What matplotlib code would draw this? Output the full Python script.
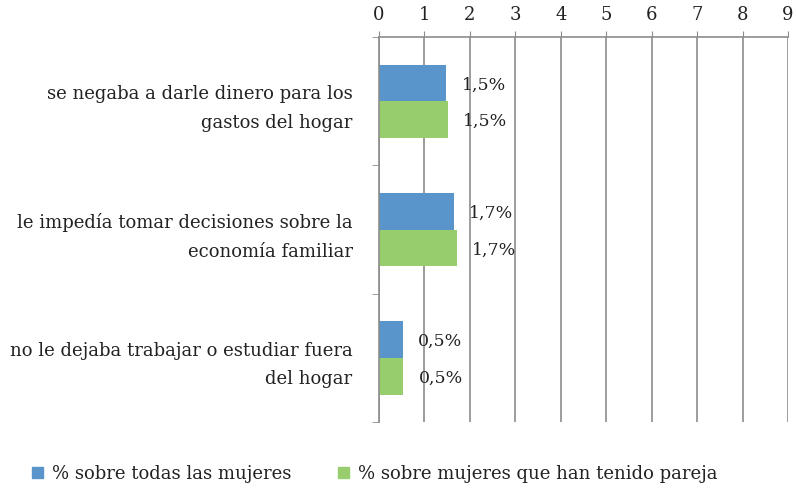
import numpy as np
import matplotlib.pyplot as plt
from matplotlib.patches import Patch

categories = [
    "se negaba a darle dinero para los\ngastos del hogar",
    "le impedía tomar decisiones sobre la\neconomía familiar",
    "no le dejaba trabajar o estudiar fuera\ndel hogar",
]
todas = [1.48, 1.65, 0.52]
pareja = [1.52, 1.72, 0.54]
labels_todas = ["1,5%", "1,7%", "0,5%"]
labels_pareja = ["1,5%", "1,7%", "0,5%"]
series_names = ["% sobre todas las mujeres", "% sobre mujeres que han tenido pareja"]

blue = "#5994CA"
green = "#98CD6E"
grid_c = "#8C8C8C"
txt = "#222222"

plt.rcParams["font.family"] = ["DejaVu Serif"]

fig = plt.figure(figsize=(7.96, 4.92), dpi=100)
ax = fig.add_axes([0.476, 0.142, 0.514, 0.783])

y = np.arange(len(categories))
h = 0.285
ax.barh(y - h / 2, todas, h, color=blue, edgecolor="none")
ax.barh(y + h / 2, pareja, h, color=green, edgecolor="none")

# value labels just outside the bars
for yi, v, t in zip(y, todas, labels_todas):
    ax.annotate(t, (v, yi - h / 2), xytext=(11, -1.5), textcoords="offset points",
                va="center", ha="left", fontsize=12.5, color=txt)
for yi, v, t in zip(y, pareja, labels_pareja):
    ax.annotate(t, (v, yi + h / 2), xytext=(11, -1.5), textcoords="offset points",
                va="center", ha="left", fontsize=12.5, color=txt)

ax.set_xlim(0, 9)
ax.set_ylim(len(categories) - 0.5, -0.5)
ax.set_xticks(range(10))
ax.xaxis.tick_top()
ax.tick_params(axis="x", which="major", length=4, color=grid_c, labelsize=13, pad=5, labelcolor=txt)
ax.grid(True, axis="x", color=grid_c, linewidth=1.2)
ax.set_axisbelow(True)

ax.set_yticks(y)
ax.set_yticklabels(categories, fontsize=13, color=txt, ha="right", linespacing=1.75)
ax.tick_params(axis="y", which="major", length=0, pad=19)
ax.set_yticks(np.arange(-0.5, len(categories)), minor=True)
ax.tick_params(axis="y", which="minor", length=5, color=grid_c)

for s in ["right", "bottom"]:
    ax.spines[s].set_visible(False)
for s in ["top", "left"]:
    ax.spines[s].set_color(grid_c)
    ax.spines[s].set_linewidth(1.2)

handles = [Patch(color=blue), Patch(color=green)]
fig.legend(handles, series_names, loc="lower left", bbox_to_anchor=(0.02, -0.015),
           ncol=2, frameon=False, fontsize=13, handlelength=0.6, handleheight=0.6,
           columnspacing=2.6, handletextpad=0.5, labelcolor=txt)

fig.savefig("out.png", dpi=100)
